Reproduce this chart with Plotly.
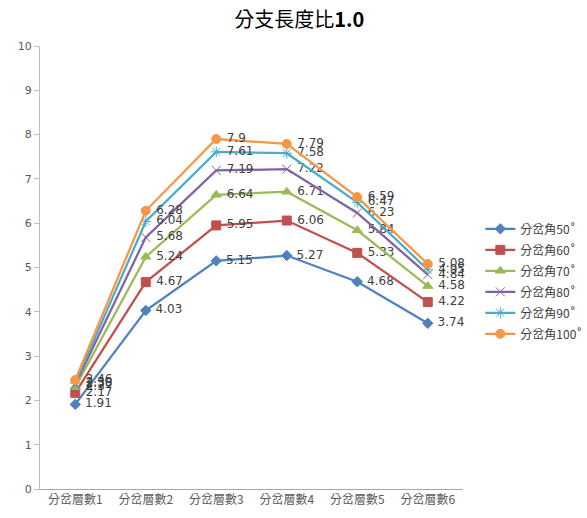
import plotly.graph_objects as go

categories = ["分岔層數1", "分岔層數2", "分岔層數3", "分岔層數4", "分岔層數5", "分岔層數6"]
series_names = ["分岔角50˚", "分岔角60˚", "分岔角70˚", "分岔角80˚", "分岔角90˚", "分岔角100˚"]
s50 = [1.91, 4.03, 5.15, 5.27, 4.68, 3.74]
s60 = [2.17, 4.67, 5.95, 6.06, 5.33, 4.22]
s70 = [2.30, 5.24, 6.64, 6.71, 5.84, 4.58]
s80 = [2.36, 5.68, 7.19, 7.22, 6.23, 4.84]
s90 = [2.39, 6.04, 7.61, 7.58, 6.47, 4.95]
s100 = [2.46, 6.28, 7.90, 7.79, 6.59, 5.08]
y_ticks = list(range(0, 11))

series = [s50, s60, s70, s80, s90, s100]
colors = ["#4F81BD", "#C0504D", "#9BBB59", "#8064A2", "#4BACC6", "#F79646"]
symbols = ["diamond", "square", "triangle-up", "x-thin-open", "asterisk-open", "circle"]
sizes = [8, 9, 9, 9, 9, 9]

FONT = "Noto Sans CJK TC, DejaVu Sans, sans-serif"

fig = go.Figure()
for i, (name, vals) in enumerate(zip(series_names, series)):
    fig.add_trace(go.Scatter(
        x=categories, y=vals, name=name, mode="lines+markers+text",
        line=dict(color=colors[i], width=2.25),
        marker=dict(symbol=symbols[i], size=sizes[i], color=colors[i],
                    line=dict(color=colors[i], width=1)),
        text=["\u00a0" + f"{v:g}" for v in vals], textposition="middle right",
        textfont=dict(size=12, color="#404040", family="DejaVu Sans, sans-serif"),
        legendgroup=f"g{i}", cliponaxis=False,
    ))

fig.update_layout(
    width=587, height=518,
    margin=dict(l=40, r=0, t=46, b=29, autoexpand=False),
    paper_bgcolor="white", plot_bgcolor="white",
    title=dict(text="分支長度比<b>1.0</b>", x=0.51, xanchor="center", y=0.962, yanchor="middle",
               font=dict(size=20, color="#000000", family=FONT)),
    font=dict(family=FONT),
    legend=dict(x=0.805, xanchor="left", y=0.62, yanchor="top",
                font=dict(size=12, color="#404040", family=FONT),
                itemwidth=30, tracegroupgap=2, bgcolor="rgba(0,0,0,0)"),
    xaxis=dict(type="category", range=[-0.5, 5.5], domain=[0, 423 / 547],
               showgrid=False, showline=True,
               linecolor="#A6A6A6", linewidth=1, ticks="",
               tickfont=dict(size=12, color="#595959", family=FONT)),
    yaxis=dict(range=[0, 10], tickvals=y_ticks, showgrid=False, showline=True,
               linecolor="#BFBFBF", linewidth=1, ticks="outside", ticklen=5,
               tickcolor="#BFBFBF", zeroline=False,
               tickfont=dict(size=11, color="#595959", family="DejaVu Sans, sans-serif")),
)

fig.write_html("out.html")
